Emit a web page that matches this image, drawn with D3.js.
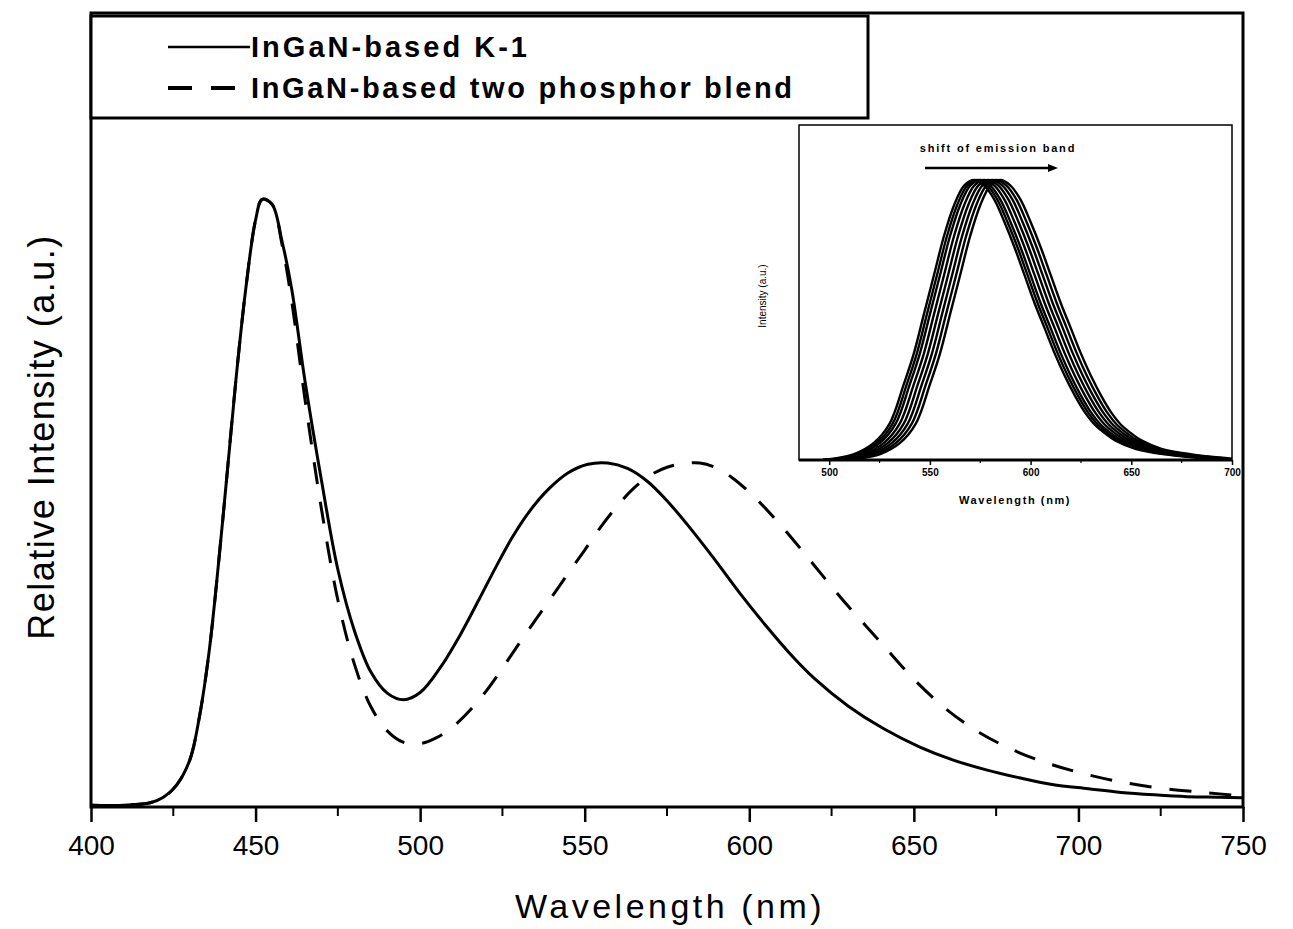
<!DOCTYPE html>
<html>
<head>
<meta charset="utf-8">
<script src="https://cdn.jsdelivr.net/npm/d3@7"></script>
<style>
  body { margin: 0; background: #fff; }
  svg { display: block; }
  text { font-family: "Liberation Sans", Arial, sans-serif; fill: #000; }
</style>
</head>
<body>
<svg id="chart" width="1293" height="929"></svg>
<script>
// main spectra (wavelength nm, relative intensity, blue peak = 1)
var k1Wave  = [400, 410, 418, 422, 426, 430, 433, 436, 440, 444, 447, 450, 452, 455, 458, 461, 465, 470, 475, 480, 485, 490, 495, 500, 506, 512, 518, 523, 528, 533, 539, 545, 551, 557, 563, 569, 575, 581, 589, 597, 605, 613, 620, 630, 641, 652, 662, 672, 682, 692, 703, 713, 723, 733, 743, 750];
var k1Value = [0.003, 0.003, 0.007, 0.016, 0.036, 0.077, 0.15, 0.26, 0.47, 0.70, 0.85, 0.964, 0.998, 0.99, 0.93, 0.85, 0.70, 0.537, 0.39, 0.29, 0.222, 0.187, 0.176, 0.188, 0.228, 0.281, 0.342, 0.394, 0.443, 0.484, 0.522, 0.549, 0.563, 0.565, 0.556, 0.535, 0.503, 0.465, 0.41, 0.352, 0.298, 0.248, 0.21, 0.166, 0.128, 0.098, 0.077, 0.061, 0.048, 0.037, 0.030, 0.024, 0.020, 0.017, 0.016, 0.015];

var blendWave  = [400, 410, 418, 422, 426, 430, 433, 436, 440, 444, 447, 450, 452, 455, 458, 461, 465, 470, 475, 480, 485, 490, 495, 500, 505, 510, 515, 520, 525, 530, 535, 540, 545, 550, 555, 560, 565, 570, 575, 580, 585, 590, 595, 600, 605, 610, 615, 620, 625, 630, 640, 650, 660, 670, 680, 690, 700, 712, 725, 738, 750];
var blendValue = [0.003, 0.003, 0.007, 0.016, 0.036, 0.077, 0.15, 0.26, 0.47, 0.70, 0.85, 0.964, 0.998, 0.99, 0.925, 0.83, 0.67, 0.49, 0.34, 0.235, 0.165, 0.125, 0.106, 0.104, 0.114, 0.132, 0.158, 0.19, 0.228, 0.268, 0.307, 0.345, 0.384, 0.422, 0.461, 0.495, 0.524, 0.545, 0.558, 0.564, 0.565, 0.557, 0.540, 0.517, 0.49, 0.46, 0.428, 0.395, 0.362, 0.33, 0.27, 0.21, 0.16, 0.122, 0.094, 0.073, 0.057, 0.042, 0.031, 0.024, 0.018];

var xTicks = [400, 450, 500, 550, 600, 650, 700, 750];
var legendLabels = ["InGaN-based K-1", "InGaN-based two phosphor blend"];

// inset: one band profile (offset from peak in nm) and the peak of each shifted band
var insetOffset = [-75, -70, -60, -50, -42, -35, -30, -25, -20, -15, -10, -5, 0, 5, 10, 15, 20, 25, 30, 35, 40, 45, 50, 55, 60, 65, 70, 80, 95, 115, 130];
var insetShape  = [0.002, 0.005, 0.02, 0.06, 0.13, 0.27, 0.38, 0.52, 0.66, 0.80, 0.91, 0.98, 1.0, 0.98, 0.93, 0.85, 0.76, 0.66, 0.56, 0.47, 0.38, 0.30, 0.23, 0.17, 0.125, 0.095, 0.07, 0.04, 0.02, 0.005, 0.002];
var insetPeaks  = [572, 573.5, 575, 577, 579, 581, 583, 585];
var insetTicks  = [500, 550, 600, 650, 700];

var svg = d3.select("#chart");

var frame = {left: 91, right: 1243, top: 13, bottom: 807};

var x = d3.scaleLinear().domain([400, 750]).range([frame.left, frame.right]);
var y = d3.scaleLinear().domain([0, 1.304]).range([frame.bottom, frame.top]);

function zipSeries(wave, value){
	return wave.map(function(w, i){ return [w, value[i]]; });
}

var line = d3.line()
	.x(function(d){ return x(d[0]); })
	.y(function(d){ return y(d[1]); })
	.curve(d3.curveCatmullRom.alpha(0.5));

// curves
svg.append("path")
	.datum(zipSeries(k1Wave, k1Value))
	.attr("d", line)
	.attr("fill", "none")
	.attr("stroke", "#000")
	.attr("stroke-width", 3);

svg.append("path")
	.datum(zipSeries(blendWave, blendValue))
	.attr("d", line)
	.attr("fill", "none")
	.attr("stroke", "#000")
	.attr("stroke-width", 3)
	.attr("stroke-dasharray", "22,18");

// bottom axis with minor ticks
var xAxis = d3.axisBottom(x).tickValues(xTicks).tickSize(15).tickPadding(8).tickFormat(d3.format("d"));
var gx = svg.append("g").attr("transform", "translate(0," + frame.bottom + ")").call(xAxis);
gx.select(".domain").remove();
gx.selectAll(".tick line").attr("stroke-width", 2.5);
gx.selectAll(".tick text").style("font-size", "28px").attr("dy", "0.9em");

svg.append("g").selectAll("line")
	.data(d3.range(425, 750, 50))
	.enter().append("line")
	.attr("x1", function(d){ return x(d); })
	.attr("x2", function(d){ return x(d); })
	.attr("y1", frame.bottom)
	.attr("y2", frame.bottom + 9)
	.attr("stroke", "#000")
	.attr("stroke-width", 2);

// frame
svg.append("rect")
	.attr("x", frame.left).attr("y", frame.top)
	.attr("width", frame.right - frame.left).attr("height", frame.bottom - frame.top)
	.attr("fill", "none").attr("stroke", "#000").attr("stroke-width", 3);

// axis titles
svg.append("text")
	.attr("x", (frame.left + frame.right) / 2 + 3)
	.attr("y", 918)
	.attr("text-anchor", "middle")
	.style("font-size", "34px")
	.style("letter-spacing", "3.5px")
	.text("Wavelength (nm)");

svg.append("text")
	.attr("transform", "translate(54,437) rotate(-90)")
	.attr("text-anchor", "middle")
	.style("font-size", "36px")
	.style("letter-spacing", "1.5px")
	.text("Relative Intensity (a.u.)");

// legend box
var legendG = svg.append("g");
legendG.append("rect")
	.attr("x", frame.left).attr("y", frame.top + 3)
	.attr("width", 868 - frame.left).attr("height", 118 - frame.top - 3)
	.attr("fill", "#fff").attr("stroke", "#000").attr("stroke-width", 3);

var legendY = [47, 88];
var legendWidths = [276, 541];
legendG.selectAll(".legline")
	.data(legendLabels)
	.enter().append("line")
	.attr("class", "legline")
	.attr("x1", 168).attr("x2", 250)
	.attr("y1", function(d, i){ return legendY[i]; })
	.attr("y2", function(d, i){ return legendY[i]; })
	.attr("stroke", "#000")
	.attr("stroke-width", function(d, i){ return i == 0 ? 2.5 : 4; })
	.attr("stroke-dasharray", function(d, i){ return i == 0 ? null : "24,19"; });

legendG.selectAll(".legtext")
	.data(legendLabels)
	.enter().append("text")
	.attr("class", "legtext")
	.attr("x", 251)
	.attr("y", function(d, i){ return legendY[i] + 10; })
	.attr("textLength", function(d, i){ return legendWidths[i]; })
	.attr("lengthAdjust", "spacing")
	.style("font-size", "29px")
	.style("font-weight", "bold")
	.text(function(d){ return d; });

// ---- inset ----
var inset = {left: 799, right: 1232, top: 125, bottom: 460};
var ix = d3.scaleLinear().domain([485, 700]).range([inset.left, inset.right]);
var iy = d3.scaleLinear().domain([0, 1.0]).range([inset.bottom, 180]);

var insetG = svg.append("g");
insetG.append("rect")
	.attr("x", inset.left).attr("y", inset.top)
	.attr("width", inset.right - inset.left).attr("height", inset.bottom - inset.top)
	.attr("fill", "#fff").attr("stroke", "#000").attr("stroke-width", 1.5);

var insetLine = d3.line()
	.x(function(d){ return ix(d[0]); })
	.y(function(d){ return iy(d[1]); })
	.curve(d3.curveCatmullRom.alpha(0.5));

insetG.selectAll(".band")
	.data(insetPeaks)
	.enter().append("path")
	.attr("class", "band")
	.attr("d", function(p){
		var pts = insetOffset.map(function(o, i){ return [p + o, insetShape[i]]; })
			.filter(function(d){ return d[0] >= 485 && d[0] <= 700; });
		return insetLine(pts);
	})
	.attr("fill", "none")
	.attr("stroke", "#000")
	.attr("stroke-width", 2.4);

insetG.append("line")
	.attr("x1", inset.left).attr("x2", inset.right)
	.attr("y1", inset.bottom).attr("y2", inset.bottom)
	.attr("stroke", "#000").attr("stroke-width", 3);

var ixAxis = d3.axisBottom(ix).tickValues(insetTicks).tickSize(5).tickPadding(4).tickFormat(d3.format("d"));
var igx = insetG.append("g").attr("transform", "translate(0," + inset.bottom + ")").call(ixAxis);
igx.select(".domain").remove();
igx.selectAll(".tick line").attr("stroke-width", 1.5);
igx.selectAll(".tick text").style("font-size", "10px").style("font-weight", "bold");

insetG.append("g").selectAll("line")
	.data(d3.range(525, 700, 50))
	.enter().append("line")
	.attr("x1", function(d){ return ix(d); })
	.attr("x2", function(d){ return ix(d); })
	.attr("y1", inset.bottom).attr("y2", inset.bottom + 3)
	.attr("stroke", "#000").attr("stroke-width", 1.2);

insetG.append("text")
	.attr("x", 1015).attr("y", 504)
	.attr("text-anchor", "middle")
	.style("font-size", "11px").style("font-weight", "bold")
	.style("letter-spacing", "1.6px")
	.text("Wavelength (nm)");

insetG.append("text")
	.attr("transform", "translate(766,296) rotate(-90)")
	.attr("text-anchor", "middle")
	.style("font-size", "10px")
	.text("Intensity (a.u.)");

insetG.append("text")
	.attr("x", 998).attr("y", 152)
	.attr("text-anchor", "middle")
	.style("font-size", "11px").style("font-weight", "bold")
	.style("letter-spacing", "1.8px")
	.text("shift of emission band");

// arrow
insetG.append("line")
	.attr("x1", 925).attr("x2", 1050)
	.attr("y1", 168).attr("y2", 168)
	.attr("stroke", "#000").attr("stroke-width", 2.5);
insetG.append("path")
	.attr("d", "M1048,164 L1058,168 L1048,172 Z")
	.attr("fill", "#000");
</script>
</body>
</html>
